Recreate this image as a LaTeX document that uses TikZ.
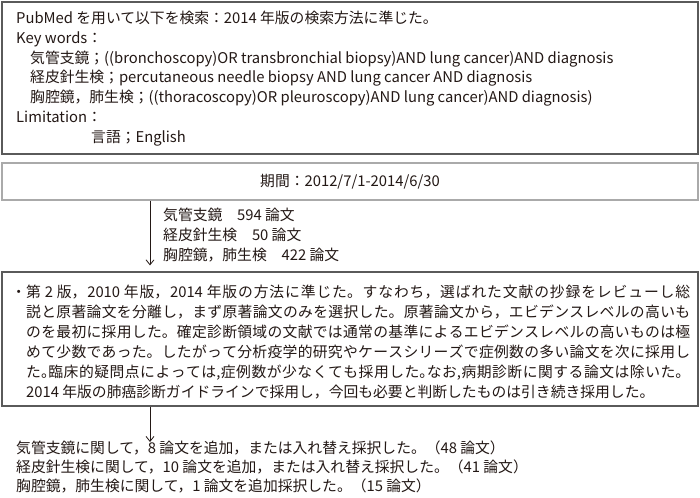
\documentclass[tikz,border=0pt]{standalone}
\usepackage{fontspec}
\setmainfont{Noto Sans CJK JP}
\usetikzlibrary{arrows.meta}
\definecolor{ink}{HTML}{231815}
\definecolor{frameA}{HTML}{5A5A5A}
\definecolor{frameB}{HTML}{AAAAAA}
\newcommand{\halfmaru}{\makebox[.5em][l]{。}}
\newcommand{\jfull}[1]{\parbox[t]{664pt}{\XeTeXlinebreaklocale "ja"\XeTeXlinebreakskip=0pt plus 3pt\relax
  \parindent=0pt\parfillskip=0pt\relax\leavevmode #1}}
\begin{document}
\begin{tikzpicture}[x=1pt,y=-1pt,
  font=\fontsize{14.8}{20}\selectfont,
  boxA/.style={draw=frameA, line width=1.2pt, rectangle, inner sep=0pt, minimum width=696pt},
  boxB/.style={draw=frameB, line width=1.4pt, rectangle, inner sep=0pt, minimum width=696pt, text=ink},
  txt/.style={anchor=base west, inner sep=0pt, text=ink},
  arr/.style={draw=ink, line width=0.8pt, -{Straight Barb[length=5pt,width=8pt]}}]
\useasboundingbox (0,0) rectangle (700,497);
\fill[white] (0,0) rectangle (700,497);
% box 1
\node[boxA, minimum height=152pt] (box1) at (350,78) {};
\node[txt] (k0) at (16,23.5) {PubMed を用いて以下を検索：2014 年版の検索方法に準じた。};
\node[txt] (k1) at (16,43.3) {Key words：};
\node[txt] (k2) at (30,63.1) {気管支鏡；((bronchoscopy)OR transbronchial biopsy)AND lung cancer)AND diagnosis};
\node[txt] (k3) at (30,82.9) {経皮針生検；percutaneous needle biopsy AND lung cancer AND diagnosis};
\node[txt] (k4) at (30,102.7) {胸腔鏡，肺生検；((thoracoscopy)OR pleuroscopy)AND lung cancer)AND diagnosis)};
\node[txt] (k5) at (16,122.5) {Limitation：};
\node[txt] (k6) at (91,142.3) {言語；English};
% box 2
\node[boxB, minimum height=37pt] (box2) at (350,181.5) {期間：2012/7/1-2014/6/30};
% counts
\node[txt] (c1) at (163,220.5) {気管支鏡　594 論文};
\node[txt] (c2) at (163,240.5) {経皮針生検　50 論文};
\node[txt] (c3) at (163,260.5) {胸腔鏡，肺生検　422 論文};
% box 3
\node[boxA, minimum height=134pt] (box3) at (350,339) {};
\node[txt] (m1) at (26,297.5) {\jfull{\llap{・}第 2 版，2010 年版，2014 年版の方法に準じた。すなわち，選ばれた文献の抄録をレビューし総}};
\node[txt] (m2) at (26,317.5) {\jfull{説と原著論文を分離し，まず原著論文のみを選択した。原著論文から，エビデンスレベルの高いも}};
\node[txt] (m3) at (26,337.5) {\jfull{のを最初に採用した。確定診断領域の文献では通常の基準によるエビデンスレベルの高いものは極}};
\node[txt] (m4) at (26,357.5) {\jfull{めて少数であった。したがって分析疫学的研究やケースシリーズで症例数の多い論文を次に採用し}};
\node[txt] (m5) at (26,377.5) {\jfull{た\halfmaru 臨床的疑問点によっては,症例数が少なくても採用した\halfmaru なお,病期診断に関する論文は除いた。}};
\node[txt] (m6) at (26,397.5) {2014 年版の肺癌診断ガイドラインで採用し，今回も必要と判断したものは引き続き採用した。};
% arrows
\coordinate (ax) at (150,0);
\coordinate (a2end) at (150,442);
\draw[arr, shorten >=6pt] (box2.south -| ax) -- (box3.north -| ax);
\draw[arr] (box3.south -| ax) -- (a2end);
% results
\node[txt] (r1) at (16,453.5) {気管支鏡に関して，8 論文を追加，または入れ替え採択した。（48 論文）};
\node[txt] (r2) at (16,472.5) {経皮針生検に関して，10 論文を追加，または入れ替え採択した。（41 論文）};
\node[txt] (r3) at (16,491.5) {胸腔鏡，肺生検に関して，1 論文を追加採択した。（15 論文）};
\end{tikzpicture}
\end{document}
